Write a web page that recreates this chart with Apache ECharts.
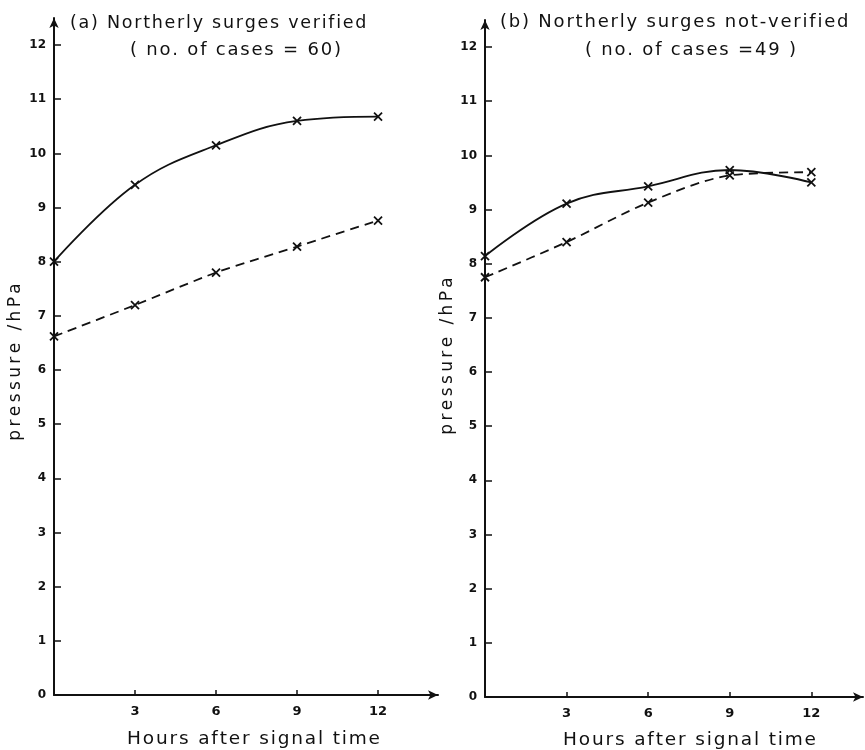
<!DOCTYPE html>
<html>
<head>
<meta charset="utf-8">
<script src="https://cdn.jsdelivr.net/npm/echarts@6/dist/echarts.min.js"></script>
<style>
  html, body { margin: 0; padding: 0; background: #fff; }
  #chart { width: 865px; height: 750px; }
</style>
</head>
<body>
<div id="chart"></div>
<script>
// Hours after signal time
const hours = [0, 3, 6, 9, 12];
const hourTicks = [3, 6, 9, 12];
const pressureTicks = [0, 1, 2, 3, 4, 5, 6, 7, 8, 9, 10, 11, 12];

// (a) Northerly surges verified (60 cases)
const verifiedSolid = [8.0, 9.42, 10.15, 10.6, 10.68];
const verifiedDashed = [6.62, 7.2, 7.8, 8.28, 8.76];

// (b) Northerly surges not-verified (49 cases)
const notVerifiedSolid = [8.14, 9.11, 9.43, 9.73, 9.5];
const notVerifiedDashed = [7.75, 8.4, 9.13, 9.63, 9.69];

const FONT = 'DejaVu Sans';
const INK = '#111';

const crossSymbol = 'path://M0,0L10,10M10,0L0,10';

// Widely tracked lettering: put a narrow space between characters
const HAIR = '\u200A';
const THIN = '\u2009';
function tracked(str, gap) {
  return Array.from(str).join(gap);
}

function pairs(values) {
  return hours.map((h, i) => [h, values[i]]);
}

function xAxisFor(gridIndex, max) {
  return {
    type: 'value', gridIndex, min: 0, max, interval: 3,
    splitLine: { show: false },
    axisLine: { show: true, symbol: ['none', 'arrow'], symbolSize: [7, 10],
      lineStyle: { color: INK, width: 2 } },
    axisTick: { show: true, inside: true, length: 5, customValues: hourTicks,
      lineStyle: { color: INK, width: 1.5 } },
    axisLabel: { customValues: hourTicks, color: INK, fontFamily: FONT,
      fontWeight: 'bold', fontSize: 13, margin: 10 }
  };
}

function yAxisFor(gridIndex, max) {
  return {
    type: 'value', gridIndex, min: 0, max, interval: 1,
    splitLine: { show: false },
    axisLine: { show: true, symbol: ['none', 'arrow'], symbolSize: [7, 10],
      lineStyle: { color: INK, width: 2 } },
    axisTick: { show: true, inside: true, length: 7, customValues: pressureTicks,
      lineStyle: { color: INK, width: 1.5 } },
    axisLabel: { customValues: pressureTicks, color: INK, fontFamily: FONT,
      fontWeight: 'bold', fontSize: 12, margin: 8 }
  };
}

function lineSeries(xi, values, dashed, smooth) {
  return {
    type: 'line', xAxisIndex: xi, yAxisIndex: xi,
    data: pairs(values), smooth,
    symbol: crossSymbol, symbolSize: 8,
    itemStyle: { color: 'none', borderColor: INK, borderWidth: 1.8 },
    lineStyle: { color: INK, width: 1.8, type: dashed ? [9, 6] : 'solid' },
    z: 3
  };
}

function text(x, y, str, size, opts) {
  opts = opts || {};
  return {
    type: 'text', x, y, rotation: opts.rotation || 0,
    style: { text: str, fill: INK, font: `${size}px "${FONT}"`,
      textAlign: opts.align || 'left', textVerticalAlign: 'middle' }
  };
}

const chart = echarts.init(document.getElementById('chart'), null, { renderer: 'canvas' });

chart.setOption({
  backgroundColor: '#fff',
  animation: false,
  grid: [
    { left: 54, top: 18, width: 384, height: 677 },
    { left: 485, top: 20, width: 378, height: 677 }
  ],
  xAxis: [xAxisFor(0, 14.22), xAxisFor(1, 13.9)],
  yAxis: [yAxisFor(0, 12.5), yAxisFor(1, 12.5)],
  series: [
    lineSeries(0, verifiedSolid, false, 0.4),
    lineSeries(0, verifiedDashed, true, 0.2),
    lineSeries(1, notVerifiedSolid, false, 0.4),
    lineSeries(1, notVerifiedDashed, true, 0.3)
  ],
  graphic: [
    text(70, 23, tracked('(a) Northerly surges verified', HAIR), 17.5),
    text(130, 50, tracked('( no. of cases = 60)', HAIR), 18),
    text(500, 22, tracked('(b) Northerly surges not-verified', HAIR), 18),
    text(585, 50, tracked('( no. of cases =49 )', HAIR), 18),
    text(127, 739, tracked('Hours after signal time', HAIR), 18.5),
    text(563, 740, tracked('Hours after signal time', HAIR), 18.5),
    text(16, 362, tracked('pressure /hPa', THIN), 17,
      { rotation: Math.PI / 2, align: 'center' }),
    text(448, 356, tracked('pressure /hPa', THIN), 17,
      { rotation: Math.PI / 2, align: 'center' })
  ]
});
</script>
</body>
</html>
